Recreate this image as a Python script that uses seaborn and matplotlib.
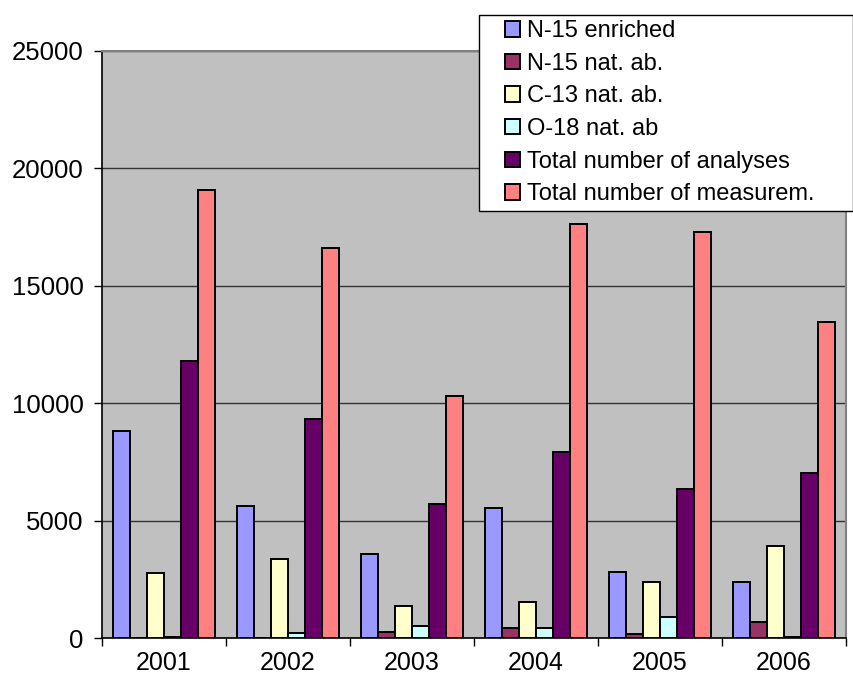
import numpy as np
import pandas as pd
import matplotlib
matplotlib.use("Agg")
import matplotlib.pyplot as plt
from matplotlib.patches import Rectangle, Patch
from matplotlib.legend_handler import HandlerPatch
import seaborn as sns

# Isotope analysis workload per year
years = ["2001", "2002", "2003", "2004", "2005", "2006"]
n15_enriched = [8800, 5620, 3590, 5550, 2820, 2370]
n15_nat_ab = [0, 0, 250, 410, 180, 690]
c13_nat_ab = [2760, 3350, 1350, 1520, 2370, 3930]
o18_nat_ab = [50, 230, 510, 410, 910, 60]
total_analyses = [11770, 9310, 5720, 7930, 6330, 7010]
total_measurements = [19080, 16610, 10310, 17640, 17290, 13460]

series_names = [
    "N-15 enriched",
    "N-15 nat. ab.",
    "C-13 nat. ab.",
    "O-18 nat. ab",
    "Total number of analyses",
    "Total number of measurem.",
]
series_values = [n15_enriched, n15_nat_ab, c13_nat_ab, o18_nat_ab,
                 total_analyses, total_measurements]
colors = ["#9999FF", "#993366", "#FFFFCC", "#CCFFFF", "#660066", "#FF8080"]

df = pd.DataFrame(
    [(y, name, v) for name, vals in zip(series_names, series_values)
     for y, v in zip(years, vals)],
    columns=["year", "series", "count"],
)

sns.set_style("white")
plt.rcParams["font.family"] = ["Liberation Sans", "DejaVu Sans"]
plt.rcParams["text.color"] = "black"
plt.rcParams["xtick.color"] = "black"
plt.rcParams["ytick.color"] = "black"
plt.rcParams["xtick.labelcolor"] = "black"
plt.rcParams["ytick.labelcolor"] = "black"

fig = plt.figure(figsize=(8.54, 6.86), dpi=100)
ax = fig.add_axes([101.7 / 854, 48 / 686, 744.3 / 854, 587.3 / 686])
ax.set_facecolor("#C0C0C0")

sns.barplot(data=df, x="year", y="count", hue="series", hue_order=series_names,
            palette=colors, width=0.82, gap=0, edgecolor="black", linewidth=1.4,
            saturation=1, legend=False, ax=ax, zorder=3)

ax.set_ylim(0, 25000)
ax.set_xlim(-0.5, len(years) - 0.5)
ax.set_yticks(np.arange(0, 25001, 5000))
ax.yaxis.grid(True, color="#333333", linewidth=1.0, zorder=0)
ax.set_axisbelow(True)

# Category separators as major ticks, year labels on minor ticks at centers
ax.set_xticks(np.arange(-0.5, len(years), 1.0))
ax.set_xticklabels([])
ax.set_xticks(np.arange(len(years)), minor=True)
ax.set_xticklabels(years, minor=True)
ax.tick_params(axis="x", which="major", direction="out", length=6, width=1.0,
               color="black", bottom=True)
ax.tick_params(axis="x", which="minor", length=0, pad=9, labelsize=18,
               labelcolor="black")
ax.tick_params(axis="y", direction="out", length=6, width=1.0, color="black",
               left=True, pad=7, labelsize=18.5, labelcolor="black")
ax.set_xlabel("")
ax.set_ylabel("")

for side in ("left", "bottom"):
    ax.spines[side].set_color("black")
    ax.spines[side].set_linewidth(1.2)
for side in ("top", "right"):
    ax.spines[side].set_color("#808080")
    ax.spines[side].set_linewidth(1.5)


def square_handle(legend, orig_handle, xdescent, ydescent, width, height, fontsize):
    s = height
    return Rectangle((width - s - xdescent, -ydescent), s, s)


handles = [Patch(facecolor=c, edgecolor="black", linewidth=1.4) for c in colors]
leg = ax.legend(
    handles, series_names,
    loc="upper left", mode="expand",
    bbox_to_anchor=(479 / 854, (686 - 209) / 686, 374 / 854, 194 / 686),
    bbox_transform=fig.transFigure, borderaxespad=0,
    fontsize=17, handlelength=1.52, handleheight=0.62, handletextpad=0.3,
    labelspacing=0.45, borderpad=0.22,
    frameon=True, fancybox=False, framealpha=1, edgecolor="black",
    handler_map={Patch: HandlerPatch(patch_func=square_handle)},
)
leg.get_frame().set_linewidth(1.0)
leg.set_zorder(10)
for t in leg.get_texts():
    t.set_color("black")

fig.savefig("out.png", dpi=100)
